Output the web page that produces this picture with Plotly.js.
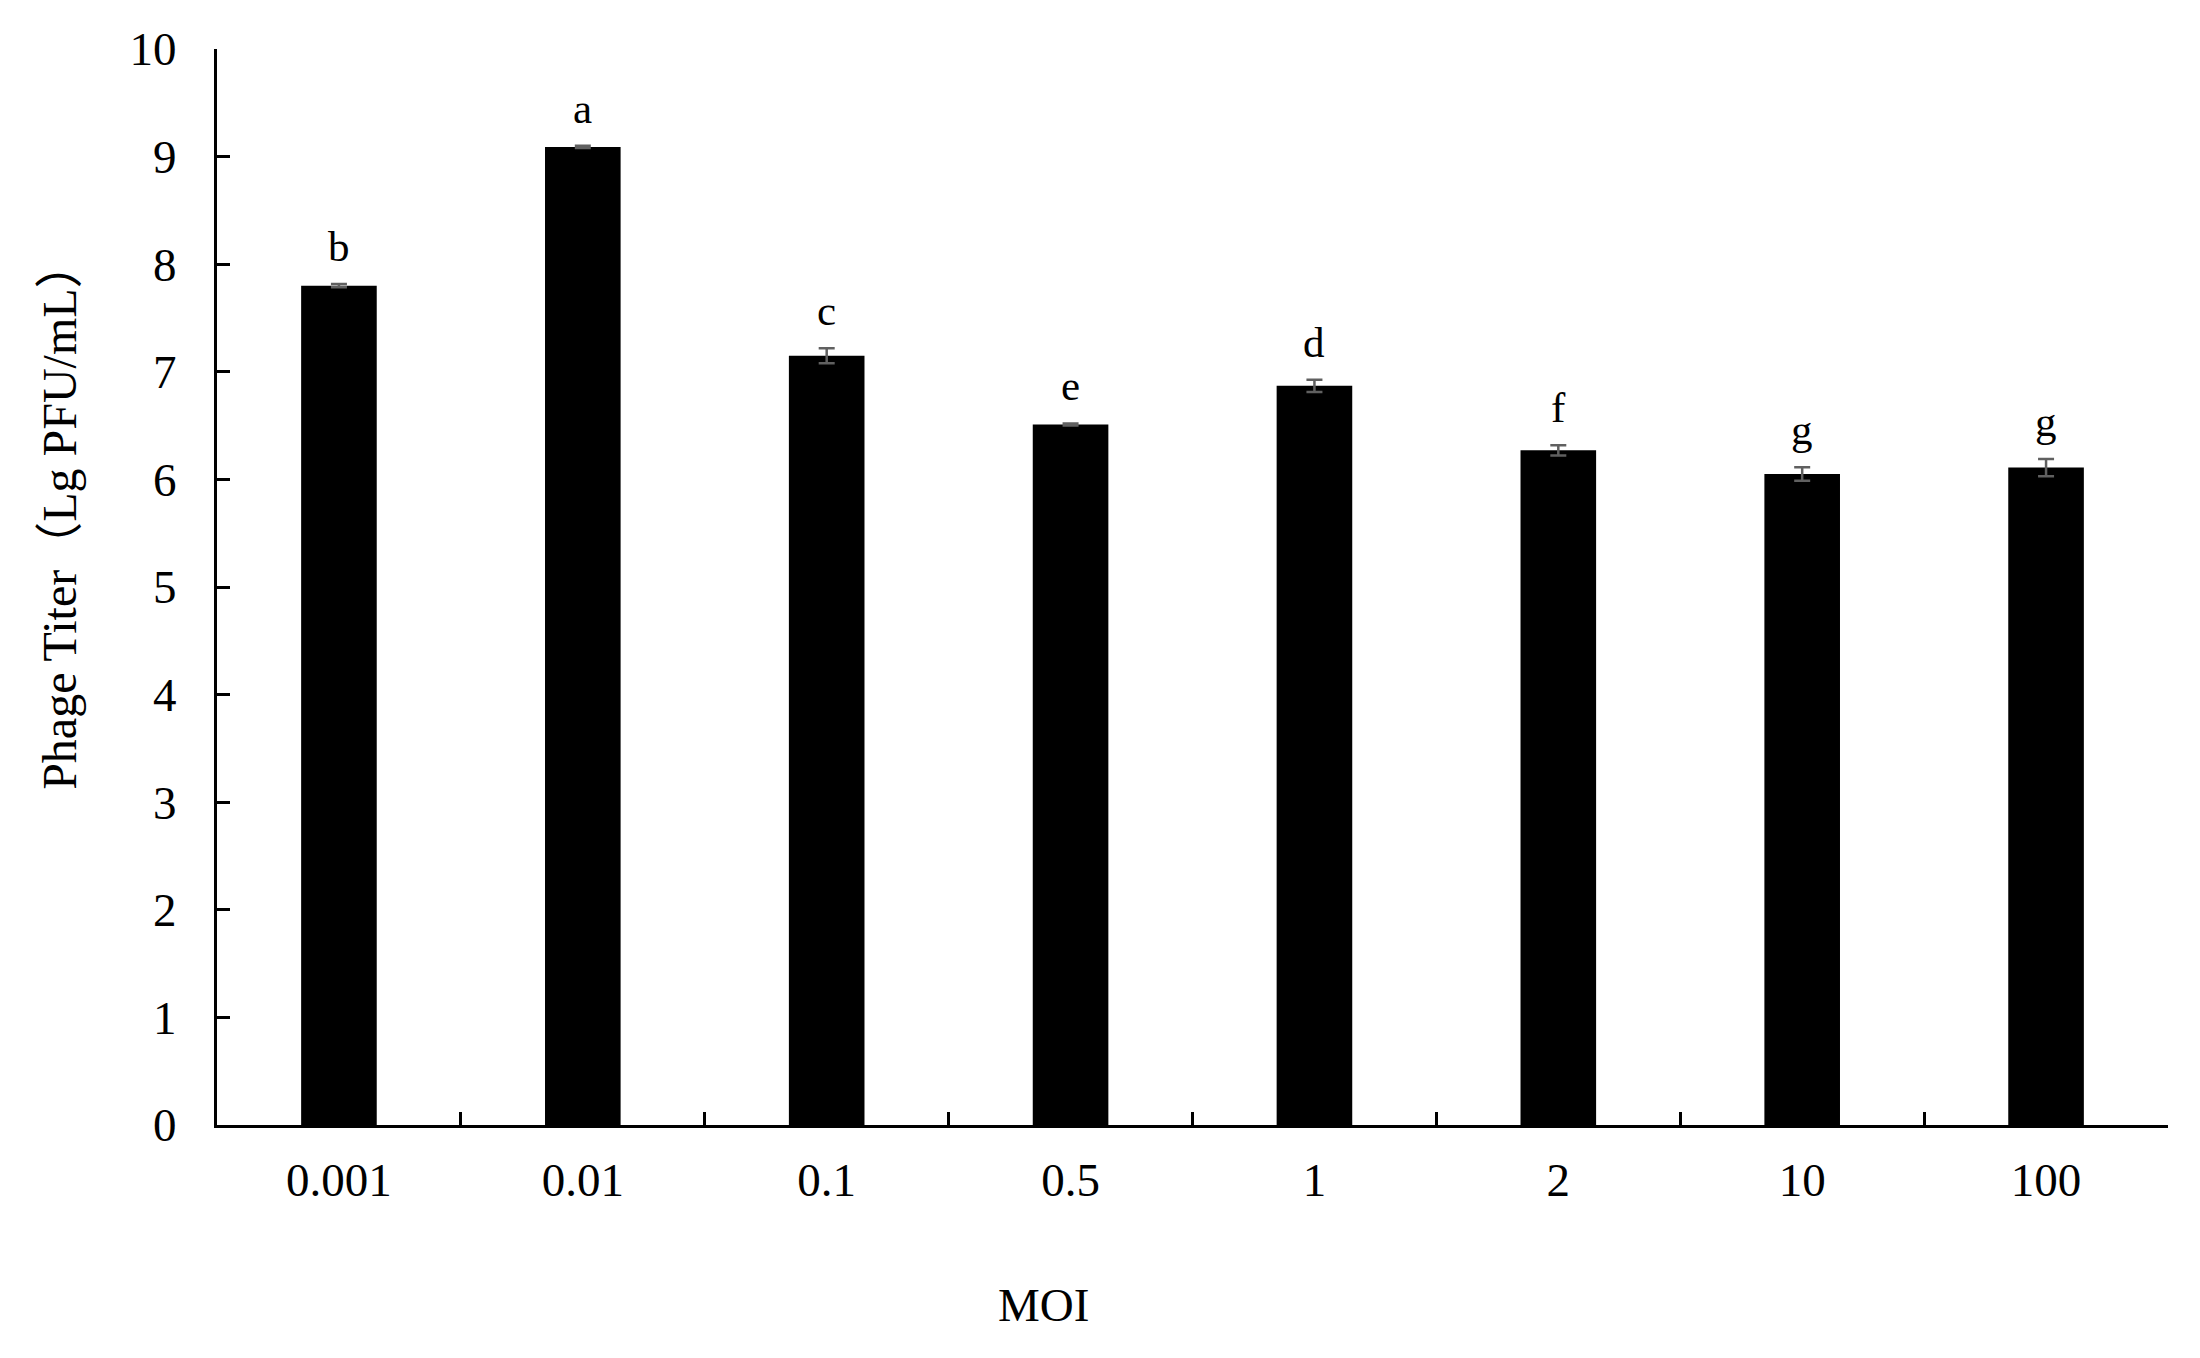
<!DOCTYPE html>
<html>
<head>
<meta charset="utf-8">
<script src="https://cdn.plot.ly/plotly-3.0.1.min.js"></script>
<style>
  body { margin: 0; background: #fff; }
  #plot { width: 2200px; height: 1358px; }
</style>
</head>
<body>
<div id="plot"></div>
<script>
// MOI groups and phage titer (Lg PFU/mL)
var moi = ["0.001", "0.01", "0.1", "0.5", "1", "2", "10", "100"];
var titer = [7.80, 9.09, 7.15, 6.51, 6.87, 6.27, 6.05, 6.11];
var sd = [0.015, 0.01, 0.07, 0.01, 0.057, 0.047, 0.063, 0.08];
var letters = ["b", "a", "c", "e", "d", "f", "g", "g"];

var serif = "Liberation Serif, 'Noto Sans CJK SC', serif";

var trace1 = {
  x: moi,
  y: titer,
  type: "bar",
  marker: {color: "#000000", line: {color: "#000000", width: 0}},
  error_y: {
    type: "data",
    array: sd,
    visible: true,
    color: "#606060",
    thickness: 2.5,
    width: 8
  },
  hoverinfo: "x+y"
};

// significance letters above each bar (x given as category index)
var notes = moi.map((m, i) => ({
  x: i,
  y: titer[i] + sd[i],
  xref: "x",
  yref: "y",
  text: letters[i],
  showarrow: false,
  yanchor: "bottom",
  yshift: 12,
  font: {family: serif, size: 43, color: "#000000"}
}));

// axis titles placed as in the figure
notes.push({
  xref: "paper", yref: "paper",
  x: -0.0805, y: 0.567,
  text: "Phage Titer（Lg PFU/mL）",
  textangle: -90,
  showarrow: false,
  xanchor: "center", yanchor: "middle",
  font: {family: serif, size: 48, color: "#000000"}
});
notes.push({
  xref: "paper", yref: "paper",
  x: 0.4234, y: -0.167,
  text: "MOI",
  showarrow: false,
  xanchor: "center", yanchor: "middle",
  font: {family: serif, size: 47, color: "#000000"}
});

var layout = {
  width: 2200,
  height: 1358,
  paper_bgcolor: "#ffffff",
  plot_bgcolor: "#ffffff",
  margin: {l: 217, r: 32, t: 49, b: 233},
  showlegend: false,
  bargap: 0.69,
  font: {family: serif, size: 47, color: "#000000"},
  xaxis: {
    type: "category",
    range: [-0.5, 7.5],
    autorange: false,
    showline: true,
    linecolor: "#000000",
    linewidth: 3,
    ticks: "inside",
    tickson: "boundaries",
    ticklen: 13,
    tickwidth: 3,
    tickcolor: "#000000",
    tickangle: 0,
    ticklabelstandoff: 12,
    showgrid: false,
    zeroline: false,
    tickfont: {family: serif, size: 47, color: "#000000"}
  },
  yaxis: {
    range: [0, 10],
    autorange: false,
    dtick: 1,
    showline: true,
    linecolor: "#000000",
    linewidth: 3,
    ticks: "inside",
    ticklen: 13,
    tickwidth: 3,
    tickcolor: "#000000",
    ticklabelstandoff: 28,
    showgrid: false,
    zeroline: false,
    tickfont: {family: serif, size: 47, color: "#000000"}
  },
  annotations: notes
};

Plotly.newPlot("plot", [trace1], layout, {displayModeBar: false});
</script>
</body>
</html>
